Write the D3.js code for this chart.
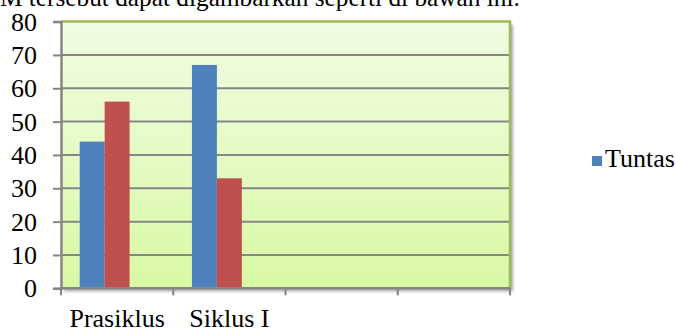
<!DOCTYPE html>
<html>
<head>
<meta charset="utf-8">
<script src="https://cdn.jsdelivr.net/npm/d3@7"></script>
<style>
  html, body { margin: 0; padding: 0; background: #fff; }
  svg { display: block; }
  svg text { font-family: "Liberation Serif", "Times New Roman", Tinos, "DejaVu Serif", serif; }
</style>
</head>
<body>
<svg id="chart" width="675" height="329"></svg>
<script>
// Categories on the x axis (two empty slots kept as in the worksheet)
const categories = ["Prasiklus", "Siklus I", "", ""];
// Percentage of students per cycle
const tuntas = [44, 67, null, null];
const belumTuntas = [56, 33, null, null];
const seriesNames = ["Tuntas", "Belum Tuntas"];
const seriesColors = ["#4f81bd", "#c0504d"];
const yTicks = [0, 10, 20, 30, 40, 50, 60, 70, 80];
const caption = "M tersebut dapat digambarkan seperti di bawah ini.";

const svg = d3.select("#chart");
const plot = { left: 61, right: 510, top: 21.6, bottom: 288.3 };
const fontSize = 26;

const defs = svg.append("defs");
const grad = defs.append("linearGradient")
  .attr("id", "bg").attr("x1", 0).attr("y1", 0).attr("x2", 0).attr("y2", 1);
grad.append("stop").attr("offset", "0%").attr("stop-color", "#f1fce3");
grad.append("stop").attr("offset", "100%").attr("stop-color", "#d9f9a5");
const shadow = defs.append("filter").attr("id", "shadow")
  .attr("x", "-5%").attr("y", "-5%").attr("width", "115%").attr("height", "115%");
shadow.append("feGaussianBlur").attr("in", "SourceAlpha").attr("stdDeviation", 1.5).attr("result", "b");
shadow.append("feOffset").attr("in", "b").attr("dx", 3).attr("dy", 3).attr("result", "o");
shadow.append("feComponentTransfer").attr("in", "o").attr("result", "s")
  .append("feFuncA").attr("type", "linear").attr("slope", 0.35);
const merge = shadow.append("feMerge");
merge.append("feMergeNode").attr("in", "s");
merge.append("feMergeNode").attr("in", "SourceGraphic");

// Caption line above the chart (partly cut at the top edge)
svg.append("text")
  .attr("x", 0).attr("y", 6)
  .attr("font-size", 25.3).attr("fill", "#000")
  .text(caption);

const x0 = d3.scaleBand().domain(d3.range(categories.length))
  .range([plot.left, plot.right]).paddingInner(0).paddingOuter(0);
// three slots per category, 150% gap width
const x1 = d3.scaleBand().domain([0, 1, 2])
  .range([0, x0.bandwidth()]).paddingInner(0).paddingOuter(0.75);
const y = d3.scaleLinear().domain([0, 80]).range([plot.bottom, plot.top]);

// Plot area background
svg.append("rect")
  .attr("x", plot.left).attr("y", plot.top)
  .attr("width", plot.right - plot.left).attr("height", plot.bottom - plot.top)
  .attr("fill", "url(#bg)")
  .attr("filter", "url(#shadow)");

// Horizontal gridlines
svg.append("g").selectAll("line").data(yTicks.filter(d => d > 0 && d < 80)).join("line")
  .attr("x1", plot.left).attr("x2", plot.right)
  .attr("y1", d => y(d)).attr("y2", d => y(d))
  .attr("stroke", "#868686").attr("stroke-width", 2);

// Bars
const data = [tuntas, belumTuntas];
const groups = svg.append("g").selectAll("g").data(categories).join("g")
  .attr("transform", (d, i) => `translate(${x0(i)},0)`);
groups.selectAll("rect")
  .data((d, i) => data.map((s, k) => ({ k, v: s[i] })).filter(e => e.v != null))
  .join("rect")
  .attr("x", e => x1(e.k))
  .attr("width", x1.bandwidth())
  .attr("y", e => y(e.v))
  .attr("height", e => y(0) - y(e.v))
  .attr("fill", e => seriesColors[e.k]);

// Plot border: green top and right
svg.append("path")
  .attr("d", `M${plot.left},${plot.top}H${plot.right}V${plot.bottom}`)
  .attr("fill", "none").attr("stroke", "#9bbb59").attr("stroke-width", 2.5);

// Y axis
const yAxis = svg.append("g").attr("transform", `translate(${plot.left},0)`)
  .call(d3.axisLeft(y).tickValues(yTicks).tickSize(8).tickPadding(6).tickFormat(d3.format("d")));
yAxis.attr("font-family", null);
yAxis.select(".domain").attr("stroke", "#868686").attr("stroke-width", 2.5);
yAxis.selectAll(".tick line").attr("stroke", "#868686").attr("stroke-width", 2);
yAxis.selectAll(".tick text")
  .attr("font-size", fontSize).attr("fill", "#000").attr("x", -24).attr("dy", "0.33em");

// X axis: ticks at category boundaries
const xa = svg.append("g");
xa.append("line")
  .attr("x1", plot.left).attr("x2", plot.right)
  .attr("y1", plot.bottom).attr("y2", plot.bottom)
  .attr("stroke", "#868686").attr("stroke-width", 2.5);
const bounds = d3.range(categories.length + 1).map(i => i < categories.length ? x0(i) : plot.right);
xa.selectAll("line.tk").data(bounds).join("line").attr("class", "tk")
  .attr("x1", d => d).attr("x2", d => d)
  .attr("y1", plot.bottom).attr("y2", plot.bottom + 7)
  .attr("stroke", "#868686").attr("stroke-width", 2);
xa.selectAll("text").data(categories).join("text")
  .attr("x", (d, i) => x0(i) + x0.bandwidth() / 2)
  .attr("y", plot.bottom + 38.5)
  .attr("text-anchor", "middle")
  .attr("font-size", fontSize).attr("fill", "#000")
  .text(d => d);

// Legend
const legend = svg.append("g").attr("transform", "translate(592,156)");
legend.append("rect").attr("width", 10).attr("height", 10).attr("fill", seriesColors[0]);
legend.append("text").attr("x", 13).attr("y", 11)
  .attr("font-size", fontSize).attr("fill", "#000").text(seriesNames[0]);
</script>
</body>
</html>
